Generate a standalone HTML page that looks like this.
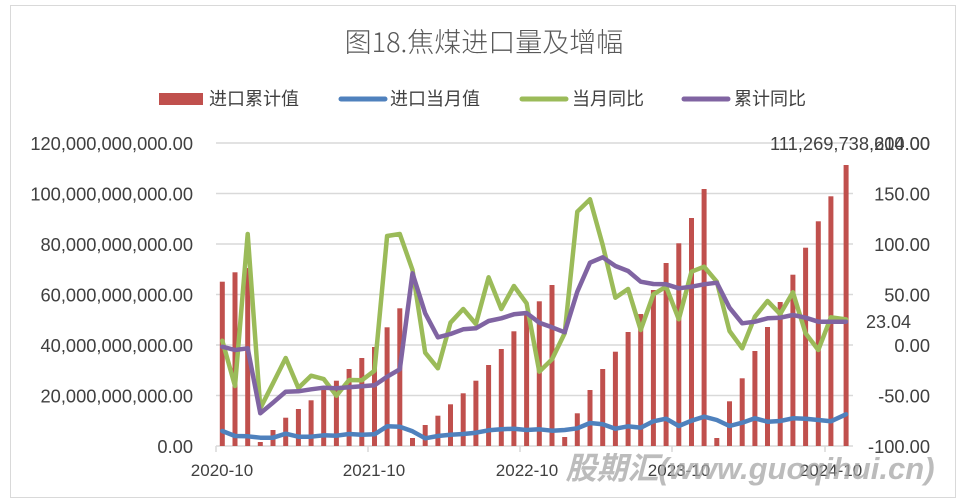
<!DOCTYPE html>
<html><head><meta charset="utf-8"><style>
body{margin:0;background:#fff;}
svg{display:block;font-family:"Liberation Sans","Noto Sans CJK SC",sans-serif;}
</style></head><body>
<svg width="960" height="502" viewBox="0 0 960 502">
<rect x="10.5" y="5.5" width="945" height="492" fill="#fff" stroke="#d9d9d9"/>
<text x="484" y="52" font-size="27" fill="#595959" text-anchor="middle" font-family="'Noto Sans CJK SC','Liberation Sans',sans-serif" font-weight="300">图18.焦煤进口量及增幅</text>
<rect x="159" y="93" width="44" height="12" fill="#c0504d"/>
<text x="209" y="105" font-size="18" fill="#404040">进口累计值</text>
<line x1="341" y1="99" x2="385" y2="99" stroke="#4f81bd" stroke-width="5" stroke-linecap="round"/>
<text x="390" y="105" font-size="18" fill="#404040">进口当月值</text>
<line x1="522" y1="99" x2="566" y2="99" stroke="#9bbb59" stroke-width="5" stroke-linecap="round"/>
<text x="572" y="105" font-size="18" fill="#404040">当月同比</text>
<line x1="684" y1="99" x2="728" y2="99" stroke="#8064a2" stroke-width="5" stroke-linecap="round"/>
<text x="734" y="105" font-size="18" fill="#404040">累计同比</text>
<g stroke="#d9d9d9" stroke-width="1.5">
<line x1="216" y1="143" x2="853" y2="143"/><line x1="216" y1="193.5" x2="853" y2="193.5"/><line x1="216" y1="244" x2="853" y2="244"/><line x1="216" y1="294.5" x2="853" y2="294.5"/><line x1="216" y1="345" x2="853" y2="345"/><line x1="216" y1="395.5" x2="853" y2="395.5"/><line x1="216" y1="446" x2="853" y2="446"/>
<line x1="216" y1="446" x2="216" y2="452"/><line x1="368" y1="446" x2="368" y2="452"/><line x1="520" y1="446" x2="520" y2="452"/><line x1="672" y1="446" x2="672" y2="452"/><line x1="825" y1="446" x2="825" y2="452"/>
</g>
<g font-size="18.3" fill="#404040" text-anchor="end">
<text x="193" y="150">120,000,000,000.00</text><text x="193" y="200.5">100,000,000,000.00</text><text x="193" y="251">80,000,000,000.00</text><text x="193" y="301.5">60,000,000,000.00</text><text x="193" y="352">40,000,000,000.00</text><text x="193" y="402.5">20,000,000,000.00</text><text x="193" y="453">0.00</text>
<text x="930" y="150">200.00</text><text x="930" y="200.5">150.00</text><text x="930" y="251">100.00</text><text x="930" y="301.5">50.00</text><text x="930" y="352">0.00</text><text x="930" y="402.5">-50.00</text><text x="930" y="453">-100.00</text>
<text x="930" y="150">111,269,738,614.00</text>
</g>
<g font-size="17" fill="#404040" text-anchor="middle">
<text x="222" y="476">2020-10</text><text x="374" y="476">2021-10</text><text x="527" y="476">2022-10</text><text x="679" y="476">2023-10</text><text x="831" y="476">2024-10</text>
</g>
<g fill="#c0504d">
<rect x="219.8" y="281.7" width="5" height="164.3"/><rect x="232.5" y="272.3" width="5" height="173.7"/><rect x="245.2" y="268" width="5" height="178"/><rect x="257.8" y="442" width="5" height="4"/><rect x="270.5" y="430" width="5" height="16"/><rect x="283.2" y="417.7" width="5" height="28.3"/><rect x="295.9" y="409" width="5" height="37"/><rect x="308.6" y="400.3" width="5" height="45.7"/><rect x="321.2" y="389" width="5" height="57"/><rect x="333.9" y="380.7" width="5" height="65.3"/><rect x="346.6" y="369" width="5" height="77"/><rect x="359.3" y="358" width="5" height="88"/><rect x="372" y="347" width="5" height="99"/><rect x="384.6" y="327.3" width="5" height="118.7"/><rect x="397.3" y="308.3" width="5" height="137.7"/><rect x="410" y="438" width="5" height="8"/><rect x="422.7" y="425" width="5" height="21"/><rect x="435.4" y="415.7" width="5" height="30.3"/><rect x="448" y="404.3" width="5" height="41.7"/><rect x="460.7" y="393.3" width="5" height="52.7"/><rect x="473.4" y="380.7" width="5" height="65.3"/><rect x="486.1" y="365" width="5" height="81"/><rect x="498.8" y="349" width="5" height="97"/><rect x="511.4" y="331.3" width="5" height="114.7"/><rect x="524.1" y="314" width="5" height="132"/><rect x="536.8" y="301.3" width="5" height="144.7"/><rect x="549.5" y="285" width="5" height="161"/><rect x="562.2" y="437" width="5" height="9"/><rect x="574.8" y="413.3" width="5" height="32.7"/><rect x="587.5" y="390" width="5" height="56"/><rect x="600.2" y="369" width="5" height="77"/><rect x="612.9" y="351.7" width="5" height="94.3"/><rect x="625.6" y="332" width="5" height="114"/><rect x="638.2" y="314" width="5" height="132"/><rect x="650.9" y="290" width="5" height="156"/><rect x="663.6" y="263" width="5" height="183"/><rect x="676.3" y="243.3" width="5" height="202.7"/><rect x="689" y="218" width="5" height="228"/><rect x="701.6" y="189" width="5" height="257"/><rect x="714.3" y="438" width="5" height="8"/><rect x="727" y="401.3" width="5" height="44.7"/><rect x="739.7" y="378.3" width="5" height="67.7"/><rect x="752.4" y="351" width="5" height="95"/><rect x="765" y="327" width="5" height="119"/><rect x="777.7" y="302" width="5" height="144"/><rect x="790.4" y="274.7" width="5" height="171.3"/><rect x="803.1" y="247.7" width="5" height="198.3"/><rect x="815.8" y="221.3" width="5" height="224.7"/><rect x="828.4" y="196.3" width="5" height="249.7"/><rect x="843.6" y="165" width="5" height="281"/>
</g>
<g fill="none" stroke-width="4.5" stroke-linejoin="round" stroke-linecap="round">
<polyline stroke="#4f81bd" points="222.3,431 235,436 247.7,436.3 260.3,437.7 273,437.7 285.7,433.7 298.4,436.7 311.1,436.7 323.7,435.3 336.4,435.7 349.1,434 361.8,434.7 374.5,434.3 387.1,426.3 399.8,426.7 412.5,431.3 425.2,438.3 437.9,436 450.5,434.7 463.2,434 475.9,432.7 488.6,430.3 501.3,429.3 513.9,428.7 526.6,430 539.3,429.3 552,430.7 564.7,430 577.3,428.3 590,423 602.7,424.3 615.4,428.7 628.1,426.3 640.7,427.7 653.4,421.3 666.1,418.7 678.8,426 691.5,420.7 704.1,416.7 716.8,420 729.5,426 742.2,422.7 754.9,418.3 767.5,421.7 780.2,421 792.9,418.3 805.6,418.7 818.3,420 830.9,421.3 846,414.3"/>
<polyline stroke="#9bbb59" points="222.3,340.7 235,386 247.7,234 260.3,408.3 273,383.3 285.7,358 298.4,388 311.1,375.7 323.7,379 336.4,395.7 349.1,380 361.8,380.3 374.5,370.7 387.1,236 399.8,234 412.5,270 425.2,352.7 437.9,368.3 450.5,322.7 463.2,309 475.9,324 488.6,277.3 501.3,309 513.9,286 526.6,303.3 539.3,371.7 552,359.3 564.7,333.3 577.3,211.7 590,199.3 602.7,245 615.4,297.7 628.1,289 640.7,330 653.4,294.3 666.1,286.7 678.8,319.3 691.5,271.7 704.1,266.7 716.8,281.7 729.5,331 742.2,348.3 754.9,316.7 767.5,301 780.2,314 792.9,292.3 805.6,333.3 818.3,350 830.9,317.3 846,319.3"/>
<polyline stroke="#8064a2" points="222.3,346.7 235,350 247.7,348.3 260.3,413.3 273,402.7 285.7,391.7 298.4,391.3 311.1,389.3 323.7,387.7 336.4,388.3 349.1,387.3 361.8,386.3 374.5,385.3 387.1,376.7 399.8,369.3 412.5,273.3 425.2,313.3 437.9,337.3 450.5,334 463.2,329.3 475.9,328.3 488.6,321 501.3,318.3 513.9,314.3 526.6,313 539.3,322.7 552,327.3 564.7,332.3 577.3,291.7 590,262.7 602.7,257.3 615.4,266 628.1,271 640.7,281.7 653.4,284 666.1,284.3 678.8,288.3 691.5,286.7 704.1,284.3 716.8,282.7 729.5,307.7 742.2,323.3 754.9,321.7 767.5,318.3 780.2,317.7 792.9,315 805.6,317.7 818.3,321.7 830.9,321.7 846,321.7"/>
</g>
<text x="866" y="328" font-size="18" fill="#404040">23.04</text>
<text x="750" y="479" font-size="31" font-weight="bold" font-style="italic" fill="#a6a6a6" fill-opacity="0.75" text-anchor="middle" font-family="'Liberation Sans','Noto Sans CJK SC',sans-serif">股期汇(www.guoqihui.cn)</text>
</svg>
</body></html>
